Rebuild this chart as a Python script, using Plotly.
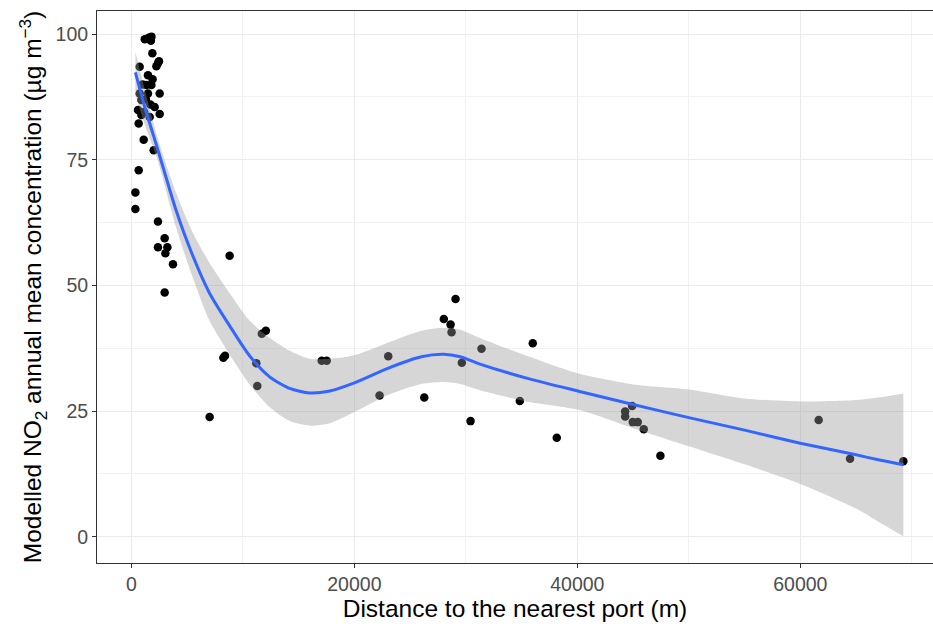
import plotly.graph_objects as go

# Observed points (distance m, NO2 µg/m3)
dist = [1200, 1550, 1800, 1750, 1883, 2385, 2474, 2241, 744, 1488, 1793, 1345,
        744, 2537, 1488, 896, 2089, 592, 2537, 1640, 896, 654, 1103, 2000,
        1300, 1700, 1900, 1000, 1150,
        654, 359, 359, 2385, 2985, 2385, 3227, 3048, 3730, 2985,
        7020, 8250, 8400, 8813, 11206, 11296, 11700, 12060,
        17070, 17520, 22260, 23040, 26270, 28025, 28630, 28720, 29075, 29640,
        30420, 31405, 34840, 36003, 38155,
        44290, 44290, 44915, 44970, 45420, 45955, 47450,
        61645, 64460, 69240]
no2 = [99.0, 99.3, 99.5, 98.7, 96.2, 94.2, 94.6, 93.6, 93.5, 91.8, 89.9, 89.9,
       88.2, 88.2, 88.2, 86.9, 85.5, 84.9, 84.1, 83.5, 83.9, 82.2, 79.0, 76.9,
       87.0, 86.0, 91.0, 90.0, 84.5,
       72.9, 68.5, 65.2, 62.7, 59.4, 57.6, 57.6, 56.4, 54.2, 48.6,
       23.8, 35.6, 36.0, 55.9, 34.5, 30.0, 40.4, 41.0,
       35.0, 35.0, 28.1, 35.9, 27.7, 43.3, 42.2, 40.7, 47.3, 34.6,
       23.0, 37.4, 27.0, 38.5, 19.7,
       24.9, 23.9, 26.0, 22.8, 22.8, 21.4, 16.1,
       23.2, 15.5, 15.0]

# Smoothed fit and confidence band
smooth_x = [359, 1200, 2400, 4000, 5400, 7000, 8800, 10600, 12400, 14200, 16000, 17800,
            20000, 23000, 26000, 28000, 29500, 31200, 35700, 40200, 45000, 50000,
            55000, 60000, 65000, 67000, 69240]
smooth_y = [92.4, 85.5, 76.8, 65.0, 56.5, 48.5, 42.0, 36.0, 31.8, 29.5, 28.6, 29.0,
            30.6, 33.5, 35.8, 36.3, 35.8, 34.4, 31.4, 28.9, 26.3, 23.7,
            21.2, 18.6, 16.3, 15.3, 14.3]
upper_y = [96.5, 89.0, 79.0, 68.5, 61.0, 54.5, 48.5, 43.0, 39.6, 37.0, 35.4, 35.4,
           36.1, 38.6, 41.0, 41.6, 41.2, 39.6, 35.8, 32.4, 30.3, 29.3,
           27.5, 26.9, 27.2, 27.7, 28.5]
lower_y = [88.0, 82.0, 74.6, 61.6, 52.2, 43.0, 36.3, 30.3, 25.8, 23.0, 22.1, 22.6,
           24.8, 28.2, 30.4, 30.8, 30.4, 29.2, 26.8, 25.2, 21.6, 18.0,
           14.4, 10.5, 5.6, 3.0, 0.1]

x_ticks = [0, 20000, 40000, 60000]
y_ticks = [0, 25, 50, 75, 100]

FONT = "Liberation Sans, Arial, sans-serif"
TICK_SIZE = 19.5
TITLE_SIZE = 24.5

fig = go.Figure()
fig.add_trace(go.Scatter(
    x=dist, y=no2, mode="markers",
    marker=dict(color="black", size=8.5, line=dict(width=0)),
    hoverinfo="skip", showlegend=False))
fig.add_trace(go.Scatter(
    x=smooth_x, y=lower_y, mode="lines",
    line=dict(width=0, shape="spline", smoothing=0.7, color="rgba(0,0,0,0)"),
    hoverinfo="skip", showlegend=False))
fig.add_trace(go.Scatter(
    x=smooth_x, y=upper_y, mode="lines", fill="tonexty",
    fillcolor="rgba(153,153,153,0.4)",
    line=dict(width=0, shape="spline", smoothing=0.7, color="rgba(0,0,0,0)"),
    hoverinfo="skip", showlegend=False))
fig.add_trace(go.Scatter(
    x=smooth_x, y=smooth_y, mode="lines",
    line=dict(color="#3366FF", width=3, shape="spline", smoothing=0.7),
    hoverinfo="skip", showlegend=False))

axis_common = dict(
    showgrid=True, gridcolor="#EBEBEB", gridwidth=1.1,
    showline=True, linecolor="#333333", linewidth=1, mirror=True,
    ticks="outside", ticklen=4, tickcolor="#333333", tickwidth=1,
    tickfont=dict(family=FONT, size=TICK_SIZE, color="#4D4D4D"),
    zeroline=False,
)

fig.update_layout(
    width=933, height=627,
    margin=dict(l=97, r=0, t=11, b=64),
    paper_bgcolor="white", plot_bgcolor="white",
    font=dict(family=FONT),
    xaxis=dict(
        range=[-3084, 71900], tickvals=x_ticks, ticktext=[str(v) for v in x_ticks],
        minor=dict(dtick=10000, tick0=0, showgrid=True, gridcolor="#F2F2F2", gridwidth=0.6, ticks=""),
        title=dict(text="Distance to the nearest port (m)", font=dict(family=FONT, size=TITLE_SIZE, color="black"), standoff=2),
        **axis_common),
    yaxis=dict(
        range=[-5.23, 104.6], tickvals=y_ticks, ticktext=[str(v) for v in y_ticks],
        minor=dict(dtick=12.5, tick0=0, showgrid=True, gridcolor="#F2F2F2", gridwidth=0.6, ticks=""),
        title=dict(text="Modelled NO<sub>2</sub> annual mean concentration (µg m<sup>−3</sup>)",
                   font=dict(family=FONT, size=TITLE_SIZE, color="black"), standoff=6),
        **axis_common),
    hovermode=False,
)

fig.write_html("out.html")
